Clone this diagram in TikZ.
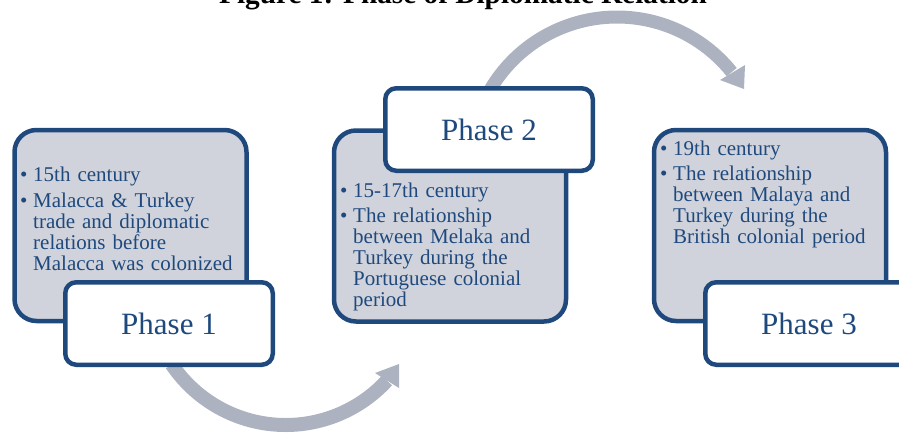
\documentclass[tikz,border=0pt]{standalone}
\usepackage{fontspec}
\setmainfont{Liberation Serif}
\definecolor{dblue}{RGB}{31,73,125}
\definecolor{gfill}{RGB}{208,211,219}
\definecolor{agray}{RGB}{173,178,193}
\newcommand{\bl}{\par\hangindent=13pt\hangafter=1\noindent\makebox[13pt][l]{\textbullet}}
\tikzset{
  graybox/.style={draw=dblue, line width=4.5pt, fill=gfill, rounded corners=22pt,
    minimum width=232pt, minimum height=191pt, inner sep=0pt},
  phasebox/.style={draw=dblue, line width=4.5pt, fill=white, rounded corners=11pt,
    minimum width=207.5pt, minimum height=82.5pt, inner sep=0pt, text=dblue,
    font=\fontsize{31}{31}\selectfont},
  bullettext/.style={anchor=north west, inner sep=0pt, text width=240pt, align=left,
    text=dblue, font=\fontsize{21}{21}\selectfont},
  arrowshaft/.style={draw=agray, line width=14pt},
  arrowhead/.style={fill=agray},
}
\begin{document}
\begin{tikzpicture}[x=1pt,y=-1pt]
\useasboundingbox (0,0) rectangle (899,432);
% title (partly cut off at the top)
\node[anchor=base, inner sep=0pt, font=\bfseries\fontsize{29.3}{30}\selectfont] (title) at (463,3.5) {Figure 1: Phase of Diplomatic Relation};
% arrows
\coordinate (c1) at (285.7,287.5);
\coordinate (c2) at (617,164);
\draw[arrowshaft] (c1) ++(146:137.5) arc[start angle=146, end angle=42.6, radius=137.5] coordinate (e1);
\fill[arrowhead] (375,373) -- (399,388) -- (399,364) -- cycle;
\draw[arrowshaft, line width=13pt] (c2) ++(-152:147) arc[start angle=-152, end angle=-38.7, radius=147] coordinate (e2);
\fill[arrowhead] (720,80) -- (745,65) -- (744,89) -- cycle;
% gray boxes
\node[graybox] (g1) at (130.5,225.5) {};
\node[graybox] (g2) at (450,226) {};
\node[graybox] (g3) at (770,225.5) {};
% texts
\node[bullettext] (t1) at (20,155.3) {\setlength{\parskip}{5pt}%
\bl\strut 15th century
\bl Malacca \& Turkey\newline trade and diplomatic\newline relations before\newline Malacca was colonized\par};
\node[bullettext] (t2) at (340,172.3) {\setlength{\parskip}{4pt}%
\bl\strut 15-17th century
\bl The relationship\newline between Melaka and\newline Turkey during the\newline Portuguese colonial\newline period\par};
\node[bullettext] (t3) at (660,130.3) {\setlength{\parskip}{4pt}%
\bl\strut 19th century
\bl The relationship\newline between Malaya and\newline Turkey during the\newline British colonial period\par};
% phase boxes
\node[phasebox] (p1) at (169,323.5) {Phase 1};
\node[phasebox] (p2) at (489,129.5) {Phase 2};
\node[phasebox] (p3) at (809,323.5) {Phase 3};
\end{tikzpicture}
\end{document}
